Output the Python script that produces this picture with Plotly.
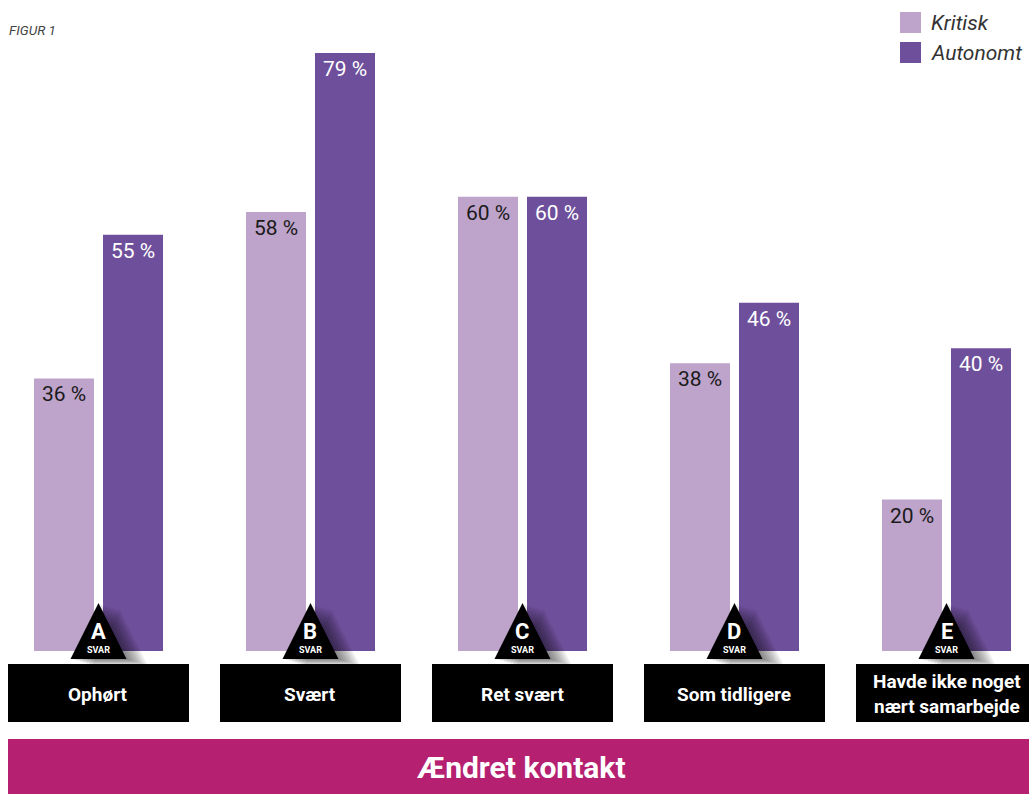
import plotly.graph_objects as go

# ---------------- data ----------------
categories = ["Ophørt", "Svært", "Ret svært", "Som tidligere", "Havde ikke noget<br>nært samarbejde"]
letters = ["A", "B", "C", "D", "E"]
kritisk = [36, 58, 60, 38, 20]
autonomt = [55, 79, 60, 46, 40]
series_names = ["Kritisk", "Autonomt"]
answer_word = "SVAR"
group_title = "Ændret kontakt"
figure_label = "FIGUR 1"

# ---------------- style ----------------
COL_K = "#BEA3CB"
COL_A = "#6E4F9B"
MAGENTA = "#B52071"
FONT = "Roboto, Open Sans, sans-serif"
NARROW = "Liberation Sans Narrow, Roboto, sans-serif"

W, H = 1029, 794
M_T, M_B = 53, 143
PERIOD = 212.0          # px per category
FIRST_C = 98.5          # px centre of first category
X0 = -FIRST_C / PERIOD
X1 = (W - FIRST_C) / PERIOD
PLOT_BOTTOM = H - M_B   # px of y=0
PLOT_H = H - M_T - M_B


def px_x(px):
    return px / W


def px_y(py):
    return (PLOT_BOTTOM - py) / PLOT_H


def centre_px(i):
    return (i - X0) / (X1 - X0) * W


fig = go.Figure()
fig.add_trace(go.Bar(x=categories, y=kritisk, name=series_names[0], marker_color=COL_K,
                     marker_line_width=0, hoverinfo="skip", showlegend=False))
fig.add_trace(go.Bar(x=categories, y=autonomt, name=series_names[1], marker_color=COL_A,
                     marker_line_width=0, hoverinfo="skip", showlegend=False))

shapes = []
annotations = []

# value labels
for i, cat in enumerate(categories):
    for vals, shift, col in ((kritisk, -34.5, "#1a1a1a"), (autonomt, 34.5, "white")):
        annotations.append(dict(x=cat, y=vals[i], xref="x", yref="y", text=f"{vals[i]} %",
                                showarrow=False, xshift=shift, yshift=-2, yanchor="top",
                                font=dict(family=FONT, size=21, color=col)))

# triangles, boxes
for i, cat in enumerate(categories):
    c = centre_px(i)
    # shadow
    for k in range(1, 8):
        dx = 3.0 * k
        dy = 0.9 * k
        shapes.append(dict(type="path", xref="paper", yref="paper",
                           path=f"M {px_x(c + dx)} {px_y(603 + dy)} L {px_x(c + 28 + dx)} {px_y(659 + dy)} "
                                f"L {px_x(c - 28 + dx)} {px_y(659 + dy)} Z",
                           fillcolor="rgba(0,0,0,0.08)", line_width=0))
    shapes.append(dict(type="path", xref="paper", yref="paper",
                       path=f"M {px_x(c)} {px_y(603)} L {px_x(c + 28)} {px_y(659)} L {px_x(c - 28)} {px_y(659)} Z",
                       fillcolor="black", line_width=0))
    annotations.append(dict(x=px_x(c), y=px_y(631), xref="paper", yref="paper", text=letters[i],
                            showarrow=False, yanchor="middle", xanchor="center",
                            font=dict(family=FONT, size=22, color="white", weight="bold")))
    annotations.append(dict(x=px_x(c), y=px_y(649.5), xref="paper", yref="paper", text=answer_word,
                            showarrow=False, yanchor="middle", xanchor="center",
                            font=dict(family=FONT, size=9, color="white", weight="bold")))
    # black label box
    shapes.append(dict(type="rect", xref="paper", yref="paper",
                       x0=px_x(c - 90.5), x1=px_x(c + 90.5), y0=px_y(722), y1=px_y(664),
                       fillcolor="black", line_width=0))
    annotations.append(dict(x=px_x(c), y=px_y(694), xref="paper", yref="paper", text=cat,
                            showarrow=False, yanchor="middle", xanchor="center",
                            font=dict(family=FONT, size=19, color="white", weight="bold")))

# bottom magenta band
shapes.append(dict(type="rect", xref="paper", yref="paper", x0=px_x(8), x1=px_x(W),
                   y0=px_y(794), y1=px_y(739), fillcolor=MAGENTA, line_width=0))
annotations.append(dict(x=px_x(521), y=px_y(767), xref="paper", yref="paper", text=group_title,
                        showarrow=False, yanchor="middle", xanchor="center",
                        font=dict(family=NARROW, size=30, color="white", weight="bold")))

# legend
for j, (name, col) in enumerate(zip(series_names, [COL_K, COL_A])):
    top = 12 + 30 * j
    shapes.append(dict(type="rect", xref="paper", yref="paper", x0=px_x(900), x1=px_x(921),
                       y0=px_y(top + 21), y1=px_y(top), fillcolor=col, line_width=0))
    annotations.append(dict(x=px_x(929), y=px_y(top + 11), xref="paper", yref="paper", text=name,
                            showarrow=False, xanchor="left", yanchor="middle",
                            font=dict(family=FONT, size=21, color="#333333", style="italic")))

# figure label
annotations.append(dict(x=px_x(7), y=px_y(30), xref="paper", yref="paper", text=figure_label,
                        showarrow=False, xanchor="left", yanchor="middle",
                        font=dict(family=FONT, size=13.5, color="#444444", style="italic")))

fig.update_layout(
    width=W, height=H,
    margin=dict(l=0, r=0, t=M_T, b=M_B, pad=0),
    paper_bgcolor="white", plot_bgcolor="white",
    barmode="group", bargap=0.349, bargroupgap=0.1304,
    xaxis=dict(range=[X0, X1], showgrid=False, zeroline=False, showticklabels=False,
               showline=False, ticks="", fixedrange=True),
    yaxis=dict(range=[0, 79], showgrid=False, zeroline=False, showticklabels=False,
               showline=False, ticks="", fixedrange=True),
    shapes=shapes, annotations=annotations,
    showlegend=False,
)

fig.write_html("out.html", config={"displayModeBar": False})
